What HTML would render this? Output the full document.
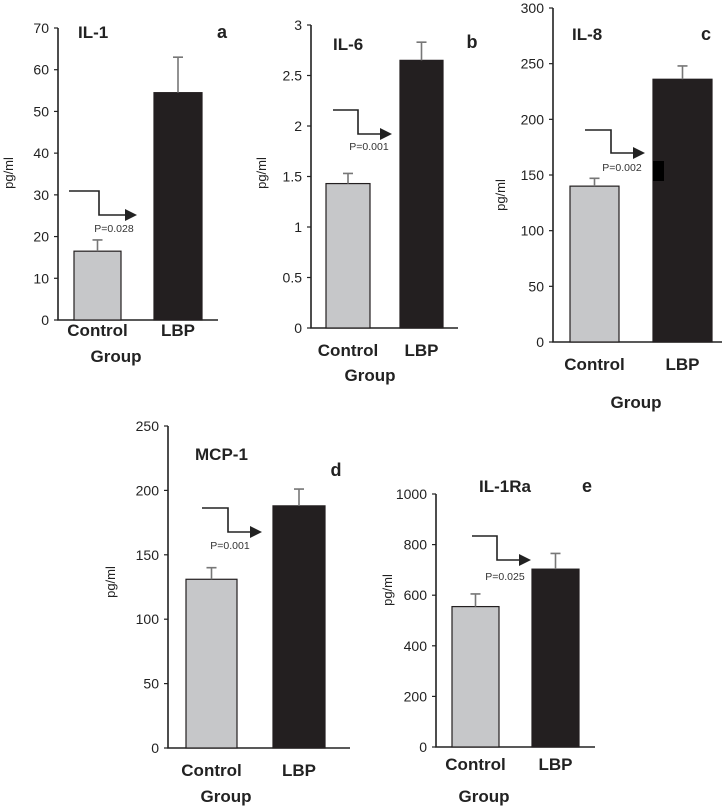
<!DOCTYPE html>
<html><head><meta charset="utf-8">
<style>
html,body{margin:0;padding:0;background:#fff;}
svg{display:block;font-family:"Liberation Sans",Arial,sans-serif;}
</style></head>
<body>
<svg id="chart" width="722" height="810" viewBox="0 0 722 810" xmlns="http://www.w3.org/2000/svg"></svg>
<script>
const categories = ["Control", "LBP"];
const panelIds = ["a", "b", "c", "d", "e"];
const panelTitles = ["IL-1", "IL-6", "IL-8", "MCP-1", "IL-1Ra"];
const meanValues = [[16.5, 54.5], [1.43, 2.65], [140, 236], [131, 188], [555, 703]];
const errorValues = [[2.7, 8.5], [0.1, 0.18], [7, 12], [9, 13], [50, 62]];
const pValues = ["P=0.028", "P=0.001", "P=0.002", "P=0.001", "P=0.025"];
const tickLabels = [
  ["0","10","20","30","40","50","60","70"],
  ["0","0.5","1","1.5","2","2.5","3"],
  ["0","50","100","150","200","250","300"],
  ["0","50","100","150","200","250"],
  ["0","200","400","600","800","1000"]
];
const yMax = [70, 3, 300, 250, 1000];

// layout (pixels)
const layout = [
  {ax:58, y0:320, yTop:28, xEnd:218, bars:[[74,121],[154,202]], title:[78,38], letter:[222,38], yl:[13,173], arrow:[69,191,99,215,137], p:[114,232], cat:336, grp:[116,362]},
  {ax:311, y0:328, yTop:25, xEnd:458, bars:[[326,370],[400,443]], title:[333,50], letter:[472,48], yl:[266,173], arrow:[333,110,358,134,392], p:[369,150], cat:356, grp:[370,381]},
  {ax:553, y0:342, yTop:8, xEnd:722, bars:[[570,619],[653,712]], title:[572,40], letter:[706,40], yl:[505,195], arrow:[585,130,611,153,645], p:[622,171], cat:370, grp:[636,408]},
  {ax:168, y0:748, yTop:426, xEnd:350, bars:[[186,237],[273,325]], title:[195,460], letter:[336,476], yl:[115,582], arrow:[202,508,228,532,262], p:[230,549], cat:776, grp:[226,802]},
  {ax:436, y0:747, yTop:494, xEnd:595, bars:[[452,499],[532,579]], title:[479,492], letter:[587,492], yl:[392,590], arrow:[472,536,497,560,531], p:[505,580], cat:770, grp:[484,802]}
];

const svg = document.getElementById('chart');
const NS = 'http://www.w3.org/2000/svg';
function mk(tag, attrs, parent, text){
  const e = document.createElementNS(NS, tag);
  for (const k in attrs) e.setAttribute(k, attrs[k]);
  if (text !== undefined) e.textContent = text;
  parent.appendChild(e);
  return e;
}

panelIds.forEach((id, i) => {
  const L = layout[i];
  const g = mk('g', {}, svg);
  
  
  const yScale = v => L.y0 - (v / yMax[i]) * (L.y0 - L.yTop);

  const axes = mk('path', {d:`M${L.ax},${L.yTop}V${L.y0}H${L.xEnd}`, fill:'none', stroke:'#222', 'stroke-width':1.6}, g);
  
  

  const n = tickLabels[i].length;
  tickLabels[i].forEach((t, k) => {
    const v = yMax[i] * k / (n - 1);
    const y = yScale(v);
    const tk = mk('line', {x1:L.ax-4, x2:L.ax, y1:y, y2:y, stroke:'#222', 'stroke-width':1.2}, g);
    
    
    const tl = mk('text', {x:L.ax-9, y:y+5, 'text-anchor':'end', 'font-size':14, fill:'#222'}, g, t);
    
    
  });

  const yl = mk('text', {x:L.yl[0], y:L.yl[1], 'text-anchor':'middle', 'font-size':13, fill:'#222', transform:`rotate(-90 ${L.yl[0]} ${L.yl[1]})`}, g, 'pg/ml');
  
  

  categories.forEach((c, j) => {
    const [x1, x2] = L.bars[j];
    const top = yScale(meanValues[i][j]);
    const bar = mk('rect', {x:x1, y:top, width:x2-x1, height:L.y0-top, fill: j===0 ? '#c6c7c9' : '#231f20', stroke:'#231f20', 'stroke-width':1.2}, g);
    
    
    const cx = (x1 + x2) / 2;
    const et = yScale(meanValues[i][j] + errorValues[i][j]);
    const eb = mk('path', {d:`M${cx},${top}V${et}M${cx-5},${et}H${cx+5}`, stroke:'#777', 'stroke-width':1.6, fill:'none'}, g);
    
    
    const cl = mk('text', {x:cx, y:L.cat, 'text-anchor':'middle', 'font-size':17, 'font-weight':'bold', fill:'#222'}, g, c);
    
    
  });

  if (id === 'c') {
    const blk = mk('rect', {x:653, y:161, width:11, height:20, fill:'#000'}, g);
    
    
  }

  const gr = mk('text', {x:L.grp[0], y:L.grp[1], 'text-anchor':'middle', 'font-size':17, 'font-weight':'bold', fill:'#222'}, g, 'Group');
  
  

  const ti = mk('text', {x:L.title[0], y:L.title[1], 'font-size':17, 'font-weight':'bold', fill:'#222'}, g, panelTitles[i]);
  
  
  const le = mk('text', {x:L.letter[0], y:L.letter[1], 'text-anchor':'middle', 'font-size':18, 'font-weight':'bold', fill:'#222'}, g, id);
  
  

  const A = L.arrow;
  const ar = mk('path', {d:`M${A[0]},${A[1]}H${A[2]}V${A[3]}H${A[4]-10}`, fill:'none', stroke:'#222', 'stroke-width':1.6}, g);
  
  
  const ah = mk('path', {d:`M${A[4]},${A[3]}L${A[4]-12},${A[3]-6}V${A[3]+6}Z`, fill:'#222'}, g);
  
  
  const pt = mk('text', {x:L.p[0], y:L.p[1], 'text-anchor':'middle', 'font-size':10.5, fill:'#333'}, g, pValues[i]);
  
  
});
</script>
</body></html>
